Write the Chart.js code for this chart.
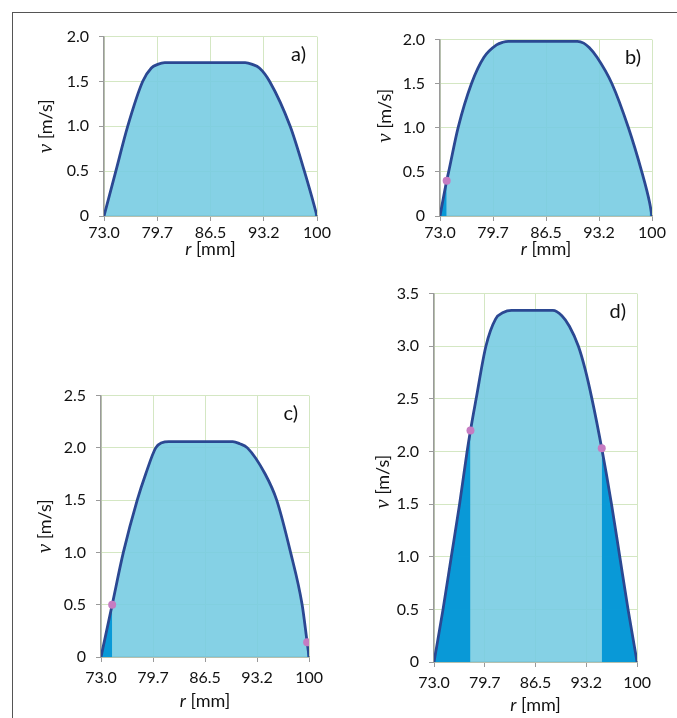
<!DOCTYPE html>
<html>
<head>
<meta charset="utf-8">
<script src="https://cdn.jsdelivr.net/npm/chart.js@4.4.0/dist/chart.umd.min.js"></script>
<style>
  body { margin: 0; background: #fff; width: 677px; height: 718px; position: relative; overflow: hidden; }
  .frame { position: absolute; left: 12px; top: 12px; width: 670px; height: 710px; border-top: 1.5px solid #555; border-left: 1.5px solid #555; }
  canvas { position: absolute; }
</style>
</head>
<body>
<div class="frame"></div>
<canvas id="chartA"></canvas>
<canvas id="chartB"></canvas>
<canvas id="chartC"></canvas>
<canvas id="chartD"></canvas>
<script>
// shared x ticks (r in mm)
const xTickLabels = ['73.0', '79.7', '86.5', '93.2', '100'];

// a)
const rA = [73, 74.5, 76.0, 77.9, 79.0, 79.8, 80.7, 90.9, 91.8, 92.7, 94.0, 96.6, 98.4, 99.7, 100];
const vA = [0, 0.5, 1.0, 1.5, 1.65, 1.69, 1.71, 1.71, 1.69, 1.65, 1.5, 1.0, 0.5, 0.1, 0];
const darkA = [[99.7, 100]];
const markA = [];
const yTicksA = ['0', '0.5', '1.0', '1.5', '2.0'];

// b)
const rB = [73, 73.85, 74.1, 75.3, 77.0, 78.6, 80.2, 81.0, 81.7, 90.5, 91.3, 92.0, 93.0, 94.9, 97.0, 98.7, 99.7, 100];
const vB = [0, 0.4, 0.5, 1.0, 1.5, 1.8, 1.94, 1.97, 1.98, 1.98, 1.96, 1.91, 1.8, 1.5, 1.0, 0.5, 0.15, 0];
const darkB = [[73, 73.85], [99.7, 100]];
const markB = [73.85];
const yTicksB = ['0', '0.5', '1.0', '1.5', '2.0'];

// c)
const rC = [73, 74.45, 75.9, 77.7, 78.8, 80.1, 80.9, 81.8, 90.1, 91.0, 92.0, 94.3, 95.8, 97.6, 99.1, 99.75, 100];
const vC = [0, 0.5, 1.0, 1.5, 1.75, 2.0, 2.05, 2.06, 2.06, 2.04, 2.0, 1.75, 1.5, 1.0, 0.5, 0.14, 0];
const darkC = [[73, 74.45], [99.75, 100]];
const markC = [74.45, 99.75];
const yTicksC = ['0', '0.5', '1.0', '1.5', '2.0', '2.5'];

// d)
const rD = [73, 74.2, 75.3, 76.4, 77.4, 77.85, 78.6, 79.9, 81.2, 82.2, 83.3, 88.8, 90.0, 91.0, 92.2, 93.1, 94.0, 95.3, 96.6, 97.7, 98.8, 100];
const vD = [0, 0.5, 1.0, 1.5, 2.0, 2.2, 2.5, 3.0, 3.26, 3.32, 3.34, 3.34, 3.29, 3.19, 3.0, 2.78, 2.5, 2.03, 1.5, 1.0, 0.5, 0];
const darkD = [[73, 77.85], [95.3, 100]];
const markD = [77.85, 95.3];
const yTicksD = ['0', '0.5', '1.0', '1.5', '2.0', '2.5', '3.0', '3.5'];

const TEXT = '#111';
const FONT = 'Lato';

function drawParts(ctx, parts, cx, cy) {
    let total = 0;
    parts.forEach(p => { ctx.font = p[0]; total += ctx.measureText(p[1]).width; });
    let x = cx - total / 2;
    parts.forEach(p => {
        ctx.font = p[0];
        ctx.fillText(p[1], x, cy);
        x += ctx.measureText(p[1]).width;
    });
}

const panelText = {
    id: 'panelText',
    afterDraw(chart, args, o) {
        const ctx = chart.ctx;
        const ca = chart.chartArea;
        ctx.save();
        ctx.fillStyle = TEXT;
        ctx.textBaseline = 'middle';
        ctx.textAlign = 'right';
        ctx.font = '20px ' + FONT;
        ctx.fillText(o.label, ca.right - 11, ca.top + 18);

        ctx.textAlign = 'left';
        // x title
        drawParts(ctx, [['italic 18px ' + FONT, 'r'], ['18px ' + FONT, ' [mm]']],
            (ca.left + ca.right) / 2, ca.bottom + o.xTitleGap);
        // y title
        ctx.translate(ca.left - o.yTitleGap, (ca.top + ca.bottom) / 2 + o.yTitleShift);
        ctx.rotate(-Math.PI / 2);
        drawParts(ctx, [['italic 21px "Liberation Serif"', 'v'], ['18px ' + FONT, ' [m/s]']], 0, 0);
        ctx.restore();
    }
};

function makePanel(id, box, r, v, dark, marks, yTicks, txt) {
    const canvas = document.getElementById(id);
    canvas.width = box.w + 96;
    canvas.height = box.h + 72;
    canvas.style.left = (box.x - 80) + 'px';
    canvas.style.top = (box.y - 12) + 'px';

    const pts = r.map((x, i) => ({ x: x, y: v[i] }));
    const datasets = [];
    datasets.push({
        data: marks.map(m => pts[r.indexOf(m)]),
        showLine: false, pointRadius: 4, pointBackgroundColor: '#c67cc2', pointBorderWidth: 0
    });
    datasets.push({
        data: pts, borderColor: '#2b4892', borderWidth: 2.8, fill: false,
        pointRadius: 0, cubicInterpolationMode: 'monotone'
    });
    dark.forEach(range => {
        datasets.push({
            data: pts.filter(p => p.x >= range[0] && p.x <= range[1]),
            borderWidth: 0, borderColor: 'transparent', backgroundColor: 'rgba(0,150,214,0.93)',
            fill: 'origin', pointRadius: 0, cubicInterpolationMode: 'monotone'
        });
    });
    datasets.push({
        data: pts, borderWidth: 0, borderColor: 'transparent', backgroundColor: 'rgba(120,204,226,0.9)',
        fill: 'origin', pointRadius: 0, cubicInterpolationMode: 'monotone'
    });

    return new Chart(canvas, {
        type: 'line',
        data: { datasets: datasets },
        plugins: [panelText],
        options: {
            responsive: false,
            animation: false,
            events: [],
            layout: { padding: { top: 12, right: 16, left: 0, bottom: 0 } },
            plugins: {
                legend: { display: false },
                tooltip: { enabled: false },
                panelText: txt
            },
            scales: {
                x: {
                    type: 'linear', min: 73, max: 100,
                    ticks: {
                        stepSize: 6.75, autoSkip: false, maxRotation: 0, padding: txt.xTickPad,
                        font: { family: FONT, size: 16 }, color: TEXT,
                        callback: (val, i) => xTickLabels[i]
                    },
                    grid: { color: '#d4e7c3', tickColor: '#9a9a9a', tickLength: 5 },
                    border: { color: '#9a9a9a', width: 1.5 },
                    afterFit: s => { s.height = 60; }
                },
                y: {
                    min: 0, max: Number(yTicks[yTicks.length - 1]),
                    ticks: {
                        stepSize: 0.5, padding: 10,
                        font: { family: FONT, size: 16 }, color: TEXT,
                        callback: (val, i) => yTicks[i]
                    },
                    grid: { color: '#d4e7c3', tickColor: '#9a9a9a', tickLength: 5 },
                    border: { color: '#9a9a9a', width: 1.5 },
                    afterFit: s => { s.width = 80; }
                }
            }
        }
    });
}

function build() {
    makePanel('chartA', { x: 104, y: 29, w: 213, h: 187 }, rA, vA, darkA, markA, yTicksA,
        { label: 'a)', xTickPad: 2, xTitleGap: 33, yTitleGap: 58, yTitleShift: 0 });
    makePanel('chartB', { x: 440, y: 32, w: 212, h: 184 }, rB, vB, darkB, markB, yTicksB,
        { label: 'b)', xTickPad: 2, xTitleGap: 33, yTitleGap: 55, yTitleShift: -12 });
    makePanel('chartC', { x: 101, y: 388, w: 212, h: 269 }, rC, vC, darkC, markC, yTicksC,
        { label: 'c)', xTickPad: 6, xTitleGap: 44, yTitleGap: 56, yTitleShift: 0 });
    makePanel('chartD', { x: 434, y: 286, w: 207, h: 376 }, rD, vD, darkD, markD, yTicksD,
        { label: 'd)', xTickPad: 6, xTitleGap: 43, yTitleGap: 51, yTitleShift: 4 });
}

Promise.all([
    document.fonts.load('16px Lato'),
    document.fonts.load('italic 18px Lato'),
    document.fonts.load('italic 21px "Liberation Serif"')
]).then(build, build);
</script>
</body>
</html>
